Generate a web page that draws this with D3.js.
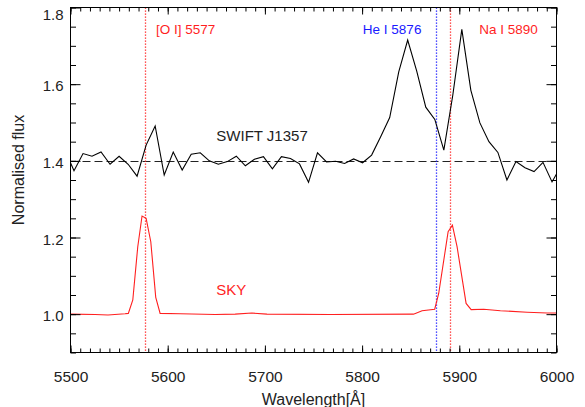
<!DOCTYPE html>
<html>
<head>
<meta charset="utf-8">
<script src="https://cdn.jsdelivr.net/npm/d3@7"></script>
<style>
  body { margin: 0; background: #fff; }
  svg { font-family: 'Liberation Sans', Arial, Helvetica, sans-serif; }
</style>
</head>
<body>
<div id="chart"></div>
<script>
// object spectrum (binned ~9.3 A)
const objWave = [
  5494.3, 5503.6, 5512.9, 5522.1, 5531.4, 5540.7, 5550.0, 5559.3, 5568.5, 5577.8,
  5587.1, 5596.4, 5605.7, 5614.9, 5624.2, 5633.5, 5642.8, 5652.1, 5661.3, 5670.6,
  5679.9, 5689.2, 5698.5, 5707.7, 5717.0, 5726.3, 5735.6, 5744.9, 5754.1, 5763.4,
  5772.7, 5782.0, 5791.3, 5800.5, 5809.8, 5819.1, 5828.4, 5837.7, 5846.9, 5856.2,
  5865.5, 5874.8, 5884.1, 5893.3, 5902.6, 5911.9, 5921.2, 5930.5, 5939.7, 5949.0,
  5958.3, 5967.6, 5976.9, 5986.1, 5995.4, 6004.7
]
const objFlux = [
  1.428, 1.374, 1.419, 1.412, 1.423, 1.391, 1.412, 1.391, 1.360, 1.441,
  1.491, 1.363, 1.423, 1.376, 1.417, 1.421, 1.400, 1.391, 1.398, 1.412,
  1.387, 1.404, 1.411, 1.379, 1.411, 1.406, 1.392, 1.344, 1.421, 1.397,
  1.399, 1.393, 1.405, 1.395, 1.415, 1.463, 1.513, 1.632, 1.715, 1.634,
  1.540, 1.508, 1.428, 1.571, 1.743, 1.584, 1.499, 1.450, 1.422, 1.350,
  1.398, 1.382, 1.372, 1.396, 1.345, 1.387
]

// sky spectrum
const skyWave = [
  5500.0, 5525.2, 5538.6, 5556.1, 5559.5, 5564.1, 5569.2, 5573.6, 5577.8, 5582.6,
  5587.7, 5592.2, 5612.8, 5648.8, 5669.4, 5686.6, 5702.1, 5767.2, 5852.7, 5854.8,
  5861.7, 5874.7, 5878.8, 5888.5, 5892.9, 5897.7, 5907.0, 5912.2, 5925.1, 5942.3,
  5969.8, 5990.4, 6000.0
]
const skyFlux = [
  1.000, 0.999, 0.998, 1.001, 1.002, 1.037, 1.176, 1.256, 1.250, 1.189,
  1.044, 1.002, 1.001, 0.999, 1.000, 1.003, 1.000, 0.999, 1.000, 1.002,
  1.009, 1.013, 1.054, 1.215, 1.232, 1.176, 1.028, 1.012, 1.013, 1.009,
  1.005, 1.003, 1.003
]

const lineNames = ['[O I] 5577', 'He I 5876', 'Na I 5890']
const lineWaves = [5577, 5876, 5890]
const xTicks = [5500, 5600, 5700, 5800, 5900, 6000]
const yTicks = [1.0, 1.2, 1.4, 1.6, 1.8]
const continuum = 1.4

////////////////////////////////////////////////////////////////////////////////
// Set up
////////////////////////////////////////////////////////////////////////////////
let width = 585
let height = 407
let box = { left: 70.5, right: 556.5, top: 7.5, bottom: 352.5 }

let svg = d3
  .select('#chart')
  .append('svg')
  .attr('width', width)
  .attr('height', height)

let x = d3.scaleLinear().domain([5500, 6000]).range([box.left, box.right])
let y = d3.scaleLinear().domain([0.9, 1.8]).range([box.bottom, box.top])

svg
  .append('clipPath')
  .attr('id', 'plot-clip')
  .append('rect')
  .attr('x', box.left)
  .attr('y', box.top)
  .attr('width', box.right - box.left)
  .attr('height', box.bottom - box.top)

let plot = svg.append('g').attr('clip-path', 'url(#plot-clip)')

////////////////////////////////////////////////////////////////////////////////
// Draw
////////////////////////////////////////////////////////////////////////////////
let red = '#ff1f1f'
let lineColors = [red, '#1a1aff', red]

// continuum level
plot
  .append('line')
  .attr('x1', x(5500))
  .attr('x2', x(6000))
  .attr('y1', Math.round(y(continuum)) + 0.5)
  .attr('y2', Math.round(y(continuum)) + 0.5)
  .attr('stroke', '#222')
  .attr('stroke-width', 1)
  .attr('stroke-dasharray', '8,4')

// rest wavelengths of the lines
plot
  .selectAll('.restline')
  .data(lineWaves)
  .enter()
  .append('line')
  .attr('class', 'restline')
  .attr('x1', d => Math.round(x(d)) + 0.5)
  .attr('x2', d => Math.round(x(d)) + 0.5)
  .attr('y1', box.top)
  .attr('y2', box.bottom)
  .attr('stroke', (d, i) => lineColors[i])
  .attr('stroke-width', 1.3)
  .attr('stroke-dasharray', '1.3,1.7')

let valueline = d3
  .line()
  .x(d => x(d[0]))
  .y(d => y(d[1]))

plot
  .append('path')
  .datum(d3.zip(skyWave, skyFlux))
  .attr('fill', 'none')
  .attr('stroke', red)
  .attr('stroke-width', 1.1)
  .attr('d', valueline)

plot
  .append('path')
  .datum(d3.zip(objWave, objFlux))
  .attr('fill', 'none')
  .attr('stroke', '#000')
  .attr('stroke-width', 1.1)
  .attr('d', valueline)

////////////////////////////////////////////////////////////////////////////////
// Axes (ticks inward on all four sides, IDL style)
////////////////////////////////////////////////////////////////////////////////
let xMinor = d3.range(5500, 6001, 10)
let yMinor = d3.range(0.9, 1.801, 0.05)
let noDomain = g => g.select('.domain').remove()

svg
  .append('g')
  .attr('transform', 'translate(0,' + box.bottom + ')')
  .call(d3.axisBottom(x).tickValues(xMinor).tickSize(-4).tickFormat(''))
  .call(noDomain)
svg
  .append('g')
  .attr('transform', 'translate(0,' + box.bottom + ')')
  .call(
    d3
      .axisBottom(x)
      .tickValues(xTicks)
      .tickSizeInner(-7)
      .tickSizeOuter(0)
      .tickPadding(18)
      .tickFormat(d3.format('d'))
  )
  .call(noDomain)
  .selectAll('text')
  .style('font-size', '15.5px')
  .attr('fill', '#222')

svg
  .append('g')
  .attr('transform', 'translate(0,' + box.top + ')')
  .call(d3.axisTop(x).tickValues(xMinor).tickSize(-4).tickFormat(''))
  .call(noDomain)
svg
  .append('g')
  .attr('transform', 'translate(0,' + box.top + ')')
  .call(d3.axisTop(x).tickValues(xTicks).tickSize(-7).tickFormat(''))
  .call(noDomain)

svg
  .append('g')
  .attr('transform', 'translate(' + box.left + ',0)')
  .call(d3.axisLeft(y).tickValues(yMinor).tickSize(-5.5).tickFormat(''))
  .call(noDomain)
svg
  .append('g')
  .attr('transform', 'translate(' + box.left + ',0)')
  .call(
    d3
      .axisLeft(y)
      .tickValues(yTicks)
      .tickSizeInner(-10)
      .tickSizeOuter(0)
      .tickPadding(7)
      .tickFormat(d3.format('.1f'))
  )
  .call(noDomain)
  .selectAll('text')
  .style('font-size', '15px')
  .attr('fill', '#222')
  .attr('dy', d => (d === 1.8 ? '0.8em' : '0.45em'))

svg
  .append('g')
  .attr('transform', 'translate(' + box.right + ',0)')
  .call(d3.axisRight(y).tickValues(yMinor).tickSize(-5.5).tickFormat(''))
  .call(noDomain)
svg
  .append('g')
  .attr('transform', 'translate(' + box.right + ',0)')
  .call(d3.axisRight(y).tickValues(yTicks).tickSize(-10).tickFormat(''))
  .call(noDomain)

svg.selectAll('.tick line').attr('stroke', '#000')

// frame
svg
  .append('rect')
  .attr('x', box.left)
  .attr('y', box.top)
  .attr('width', box.right - box.left)
  .attr('height', box.bottom - box.top)
  .attr('fill', 'none')
  .attr('stroke', '#000')
  .attr('stroke-width', 1)

////////////////////////////////////////////////////////////////////////////////
// Labels
////////////////////////////////////////////////////////////////////////////////
let lineLabelAt = [
  { w: 5588, anchor: 'start' },
  { w: 5861, anchor: 'end' },
  { w: 5920.5, anchor: 'start' }
]
svg
  .selectAll('.linelabel')
  .data(lineNames)
  .enter()
  .append('text')
  .attr('class', 'linelabel')
  .attr('x', (d, i) => x(lineLabelAt[i].w))
  .attr('y', y(1.73))
  .attr('text-anchor', (d, i) => lineLabelAt[i].anchor)
  .attr('fill', (d, i) => lineColors[i])
  .style('font-size', '13.5px')
  .text(d => d)

svg
  .append('text')
  .attr('x', x(5650))
  .attr('y', y(1.452))
  .attr('fill', '#222')
  .style('font-size', '15px')
  .text('SWIFT J1357')

svg
  .append('text')
  .attr('x', x(5650))
  .attr('y', y(1.05))
  .attr('fill', red)
  .style('font-size', '15px')
  .text('SKY')

svg
  .append('text')
  .attr('transform', 'translate(23.5,' + 170 + ') rotate(-90)')
  .attr('text-anchor', 'middle')
  .attr('fill', '#222')
  .style('font-size', '16px')
  .text('Normalised flux')

svg
  .append('text')
  .attr('x', (box.left + box.right) / 2)
  .attr('y', 405)
  .attr('text-anchor', 'middle')
  .attr('fill', '#222')
  .style('font-size', '16px')
  .text('Wavelength[Å]')
</script>
</body>
</html>
